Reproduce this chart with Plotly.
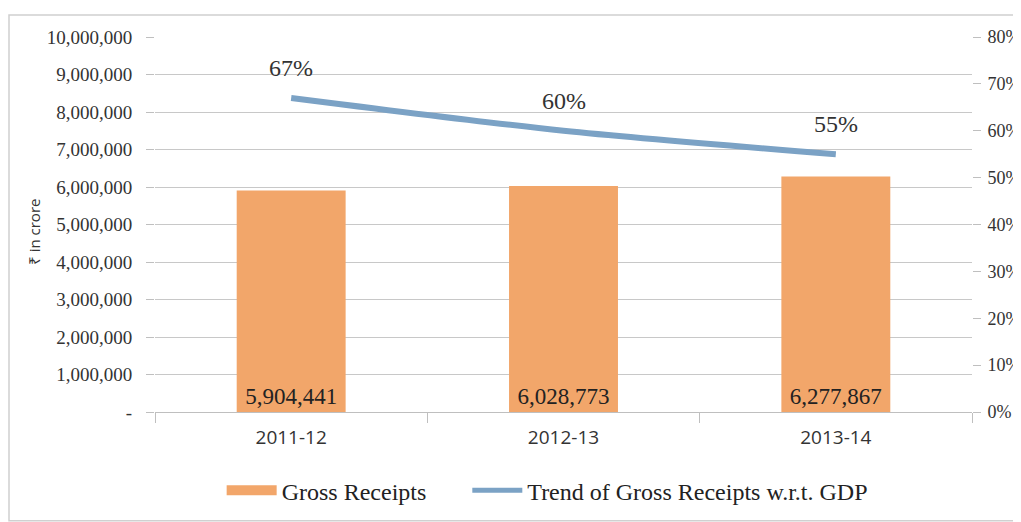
import plotly.graph_objects as go

years = ["2011-12", "2012-13", "2013-14"]
gross_receipts = [5904441, 6028773, 6277867]
trend_pct = [67, 60, 55]
bar_labels = ["5,904,441", "6,028,773", "6,277,867"]
left_tickvals = [0, 1000000, 2000000, 3000000, 4000000, 5000000, 6000000, 7000000, 8000000, 9000000, 10000000]
left_ticktext = ["-", "1,000,000", "2,000,000", "3,000,000", "4,000,000", "5,000,000",
                 "6,000,000", "7,000,000", "8,000,000", "9,000,000", "10,000,000"]
right_tickvals = [0, 10, 20, 30, 40, 50, 60, 70, 80]
right_ticktext = ["0%", "10%", "20%", "30%", "40%", "50%", "60%", "70%", "80%"]

serif = "Liberation Serif, Times New Roman, serif"
sans = "Open Sans, Liberation Sans, sans-serif"
bar_color = "#F2A66A"
line_color = "#7BA2C5"
nb = "\u00a0"

fig = go.Figure()
fig.add_trace(go.Bar(
    x=years, y=gross_receipts, name="Gross Receipts",
    marker=dict(color=bar_color, line=dict(width=0)),
    width=0.4, showlegend=False,
    text=bar_labels, textposition="inside", insidetextanchor="start",
    textfont=dict(family=serif, size=23, color="#222222"),
    hoverinfo="skip",
))
fig.add_trace(go.Scatter(
    x=years, y=trend_pct, name="Trend of Gross Receipts w.r.t. GDP",
    mode="lines", yaxis="y2", showlegend=False,
    line=dict(color=line_color, width=6, shape="spline", smoothing=0.8),
    hoverinfo="skip",
))
# legend swatches
fig.add_trace(go.Scatter(
    x=[None], y=[None], name="Gross Receipts" + nb * 6, mode="lines",
    line=dict(color=bar_color, width=11), showlegend=True,
))
fig.add_trace(go.Scatter(
    x=[None], y=[None], name="Trend of Gross Receipts w.r.t. GDP", mode="lines",
    line=dict(color=line_color, width=5), showlegend=True, yaxis="y2",
))

annotations = [
    dict(x=yr, y=v, xref="x", yref="y2", text=f"{v}%", showarrow=False,
         yshift=30, font=dict(family=serif, size=24, color="#333333"))
    for yr, v in zip(years, trend_pct)
]
annotations.append(dict(
    x=-0.1625, y=0.48, xref="paper", yref="paper", text="₹ in crore", textangle=-90,
    showarrow=False, font=dict(family=sans, size=15, color="#333333"),
))

fig.update_layout(
    width=1013, height=514,
    margin=dict(l=147, r=49, t=29, b=110, autoexpand=False),
    paper_bgcolor="white", plot_bgcolor="white",
    showlegend=True,
    legend=dict(orientation="h", x=0.48, xanchor="center", y=-0.15, yanchor="top",
                font=dict(family=serif, size=24, color="#222222"),
                traceorder="normal", itemwidth=50, tracegroupgap=0),
    xaxis=dict(
        type="category", showline=True, linecolor="#BFBFBF", linewidth=1,
        ticks="outside", tickson="boundaries", ticklen=10, tickcolor="#BFBFBF",
        ticklabelstandoff=8,
        tickfont=dict(family=sans, size=19, color="#333333"),
        showgrid=False, range=[-0.5, 2.5], automargin=False,
    ),
    yaxis=dict(
        range=[0, 10000000], tickvals=left_tickvals, ticktext=left_ticktext,
        showgrid=True, gridcolor="#C8C8C8", gridwidth=1,
        ticks="outside", ticklen=8, tickcolor="#BFBFBF", ticklabelstandoff=10,
        tickfont=dict(family=serif, size=19, color="#333333"),
        zeroline=False, showline=False, automargin=False,
    ),
    yaxis2=dict(
        range=[0, 80], tickvals=right_tickvals, ticktext=right_ticktext,
        overlaying="y", side="right", showgrid=False,
        ticks="outside", ticklen=8, tickcolor="#BFBFBF", ticklabelstandoff=3,
        tickfont=dict(family=serif, size=18, color="#333333"),
        zeroline=False, showline=False, automargin=False,
    ),
    annotations=annotations,
    shapes=[dict(type="rect", xref="paper", yref="paper", x0=-0.1787, x1=1.1, y0=-0.29, y1=1.0587,
                 line=dict(color="#D0D0D0", width=1.5), fillcolor="rgba(0,0,0,0)")],
)

fig.write_html("out.html")
